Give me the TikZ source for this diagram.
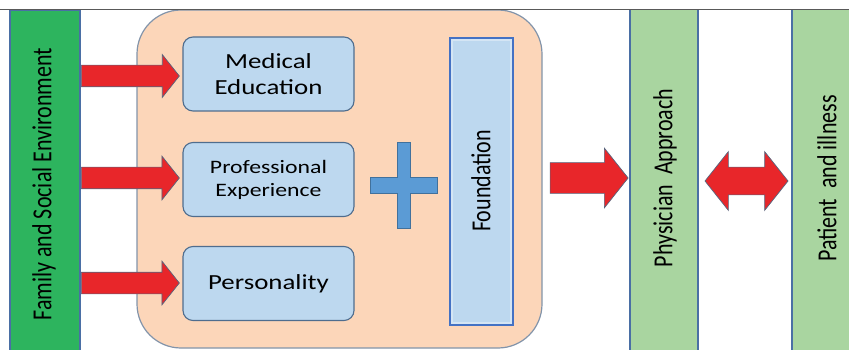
\documentclass[tikz,border=0pt]{standalone}
\usepackage{fontspec}
\setmainfont{Carlito}
\newfontfamily\wfont[FakeStretch=1.25]{Carlito}
\usetikzlibrary{shapes.arrows}

\definecolor{famgreen}{HTML}{2DB45E}
\definecolor{palegreen}{HTML}{A9D5A0}
\definecolor{baredge}{HTML}{4A6FA5}
\definecolor{peach}{HTML}{FCD6B9}
\definecolor{peachedge}{HTML}{8294AA}
\definecolor{boxblue}{HTML}{BDD8EF}
\definecolor{boxedge}{HTML}{4F6D8E}
\definecolor{plusblue}{HTML}{5B9BD5}
\definecolor{plusedge}{HTML}{41719C}
\definecolor{fndedge}{HTML}{4472C4}
\definecolor{arrowred}{HTML}{E8262A}
\definecolor{arrowedge}{HTML}{56657E}

\tikzset{
  colbar/.style={draw=none, fill=palegreen, minimum width=68pt, minimum height=344pt, inner sep=0pt},
  bluebox/.style={draw=boxedge, line width=1.1pt, fill=boxblue, rounded corners=10pt,
    minimum width=171pt, minimum height=74pt, inner sep=0pt, align=center},
  vtext/.style={rotate=90, inner sep=0pt, font=\fontsize{22}{26}\selectfont},
  redarrow/.style={single arrow, draw=arrowedge, line width=0.7pt, fill=arrowred,
    inner sep=0pt, text depth=0pt, shape border rotate=0, single arrow tip angle=103},
  redboth/.style={double arrow, draw=arrowedge, line width=0.7pt, fill=arrowred,
    inner sep=0pt, text depth=0pt, double arrow tip angle=103},
  sideedge/.style={draw=baredge, line width=2pt},
}

\begin{document}
\begin{tikzpicture}[x=1pt, y=-1pt]
  \useasboundingbox (0,0) rectangle (849,350);

  % left column: family and social environment
  \node[draw=baredge, line width=1.5pt, fill=famgreen, minimum width=70pt,
        minimum height=344pt, inner sep=0pt] (fam) at (45,182) {};
  \node[vtext] (famtxt) at (44,184) {\scalebox{1}[1.25]{Family and Social Environment}};

  % rounded container with the three components
  \node[draw=peachedge, line width=1.2pt, fill=peach, rounded corners=44pt,
        minimum width=405pt, minimum height=338pt, inner sep=0pt] (core) at (339.5,179) {};

  \node[bluebox, font=\wfont\fontsize{21.5}{26}\selectfont] (med) at (268.5,74) {Medical\\Education};
  \node[bluebox, font=\wfont\fontsize{19}{23}\selectfont] (prof) at (268.5,179.5) {Professional\\Experience};
  \node[bluebox, font=\wfont\fontsize{21.5}{26}\selectfont] (pers) at (268.5,283.5) {Personality};

  % plus sign
  \coordinate (plus) at (403.5,185.5);
  \draw[draw=plusedge, line width=1pt, fill=plusblue]
    (397,143) -- (410,143) -- (410,178) -- (437,178) -- (437,193) -- (410,193)
    -- (410,228) -- (397,228) -- (397,193) -- (370,193) -- (370,178) -- (397,178) -- cycle;

  % foundation
  \node[draw=fndedge, line width=2pt, fill=boxblue, minimum width=63pt,
        minimum height=287pt, inner sep=0pt] (fnd) at (481.5,181.5) {};
  \draw[draw=white, opacity=0.35, line width=2pt] ([shift={(3,-3)}]fnd.south west) rectangle ([shift={(-3,3)}]fnd.north east);
  \node[vtext] (fndtxt) at (481,181) {\scalebox{1}[1.25]{Foundation}};

  % physician and patient columns
  \node[colbar] (phy) at (664,182) {};
  \draw[sideedge] (phy.north west) -- (phy.south west);
  \draw[sideedge] (phy.north east) -- (phy.south east);
  \node[vtext] (phytxt) at (665,178) {\scalebox{1}[1.25]{Physician\ \ Approach}};

  \node[colbar] (pat) at (827,182) {};
  \draw[sideedge] ([xshift=-1pt]pat.north west) -- ([xshift=-1pt]pat.south west);
  \node[vtext] (pattxt) at (827,178.5) {\scalebox{1}[1.25]{Patient\ \ and illness}};

  % block arrows
  \node[redarrow, text height=21pt, single arrow head extend=10.5pt, minimum height=98pt] (a1) at (126,76) {};
  \node[redarrow, text height=21pt, single arrow head extend=11pt, minimum height=98pt] (a2) at (126,178) {};
  \node[redarrow, text height=21pt, single arrow head extend=11pt, minimum height=98pt] (a3) at (126,283) {};
  \node[redarrow, text height=30pt, single arrow head extend=14.5pt, minimum height=78pt] (a4) at (583,178) {};
  \node[redboth, text height=27pt, double arrow head extend=15.5pt, minimum height=83pt] (a5) at (746.5,181) {};

  % top rule
  \draw[draw=black!65, line width=1.6pt] (0,9.5) -- (849,9.5);
\end{tikzpicture}
\end{document}
